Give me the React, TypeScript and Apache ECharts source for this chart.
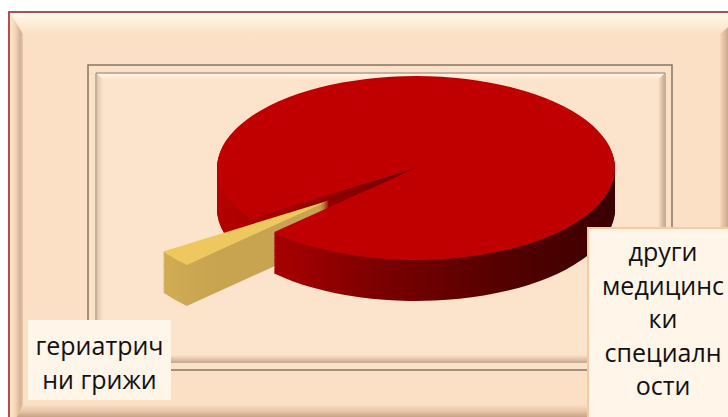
import React, { useEffect, useRef } from "react";
import * as echarts from "echarts";

// ---- data ----
const categories = ["гериатрични грижи", "други медицински специалности"];
const values = [3, 97];
const wrapWidths = [9, 8];

// ---- styling / geometry ----
const W = 728;
const H = 417;
const K = 92 / 199; // vertical squash of the pie disc
const R = 199;
const CX = 416;
const CY_TOP = 168;
const DEPTH = 41;
const LAYERS = 46;
const MID_DEG = 219; // direction of the exploded slice
const topColors = ["#eec85e", "#c00000"];
const wallColors = [
  {
    type: "linear", x: 150, y: 0, x2: 300, y2: 0, global: true,
    colorStops: [
      { offset: 0, color: "#f7d868" },
      { offset: 0.22, color: "#dcb75a" },
      { offset: 1, color: "#c8a450" },
    ],
  },
  {
    type: "linear", x: 217, y: 0, x2: 615, y2: 0, global: true,
    colorStops: [
      { offset: 0, color: "#b40000" },
      { offset: 0.2, color: "#a00000" },
      { offset: 0.4, color: "#7c0000" },
      { offset: 0.7, color: "#570000" },
      { offset: 1, color: "#3a0000" },
    ],
  },
];

function wrap(text: string, max: number): string[] {
  const lines: string[] = [];
  let cur = "";
  for (let word of text.split(" ")) {
    if (cur && (cur + " " + word).length <= max) {
      cur += " " + word;
      continue;
    }
    if (cur) lines.push(cur);
    cur = "";
    while (word.length > max) {
      lines.push(word.slice(0, max));
      word = word.slice(max);
    }
    cur = word;
  }
  if (cur) lines.push(cur);
  return lines;
}

const lg = (x: number, y: number, x2: number, y2: number, stops: [number, string][]) => ({
  type: "linear", x, y, x2, y2, global: true,
  colorStops: stops.map(([offset, color]) => ({ offset, color })),
});

export default function App() {
  const bgRef = useRef<HTMLDivElement>(null);
  const pieRef = useRef<HTMLDivElement>(null);
  const labRef = useRef<HTMLDivElement>(null);

  useEffect(() => {
    const bg = echarts.init(bgRef.current!, null, { renderer: "svg" });
    const pie = echarts.init(pieRef.current!, null, { renderer: "svg" });
    const lab = echarts.init(labRef.current!, null, { renderer: "svg" });

    bg.setOption({
      animation: false,
      graphic: [
        { type: "rect", shape: { x: 0, y: 0, width: W, height: H }, style: { fill: "#ffffff" } },
        { type: "rect", shape: { x: 9, y: 12, width: 760, height: 440 }, style: { fill: "#fbe0c5", stroke: "#b4504c", lineWidth: 2 } },
        {
          type: "polygon", shape: { points: [[10, 13], [745, 13], [720, 34], [23, 34]] },
          style: { fill: lg(0, 13, 0, 34, [[0, "#fffaf0"], [0.35, "#fff0dc"], [1, "#fbe0c5"]]) },
        },
        {
          type: "polygon", shape: { points: [[10, 13], [23, 34], [23, 405], [10, 430]] },
          style: { fill: lg(10, 0, 23, 0, [[0, "#fde6d0"], [0.45, "#f3d2b4"], [0.8, "#d2b194"], [1, "#e9c9ab"]]) },
        },
        {
          type: "polygon", shape: { points: [[745, 13], [720, 34], [720, 405], [745, 430]] },
          style: { fill: lg(720, 0, 730, 0, [[0, "#f6d8bc"], [1, "#c29c7c"]]) },
        },
        {
          type: "polygon", shape: { points: [[23, 405], [720, 405], [745, 430], [10, 430]] },
          style: { fill: lg(0, 405, 0, 417, [[0, "#f7dcc2"], [0.5, "#e9c7a8"], [1, "#c9a385"]]) },
        },
        { type: "rect", shape: { x: 88, y: 65, width: 584, height: 305 }, style: { fill: "#fbe1c7", stroke: "#857565", lineWidth: 1.5 } },
        { type: "rect", shape: { x: 96, y: 73, width: 569, height: 289 }, style: { fill: "#fbe3cc", stroke: "#8f7f70", lineWidth: 1 } },
        {
          type: "polygon", shape: { points: [[97, 74], [664, 74], [658, 80], [103, 80]] },
          style: { fill: lg(0, 74, 0, 80, [[0, "#fff3e4"], [1, "#fbe3cc"]]) },
        },
        {
          type: "polygon", shape: { points: [[97, 74], [103, 80], [103, 355], [97, 361]] },
          style: { fill: lg(97, 0, 103, 0, [[0, "#e2c4a8"], [1, "#fbe3cc"]]) },
        },
        {
          type: "polygon", shape: { points: [[664, 74], [658, 80], [658, 355], [664, 361]] },
          style: { fill: lg(658, 0, 664, 0, [[0, "#fbe3cc"], [1, "#cfae92"]]) },
        },
        {
          type: "polygon", shape: { points: [[103, 355], [658, 355], [664, 361], [97, 361]] },
          style: { fill: lg(0, 355, 0, 361, [[0, "#fbe3cc"], [1, "#d6b698"]]) },
        },
      ],
    });

    const total = values.reduce((a, b) => a + b, 0);
    const startAngle = MID_DEG + (values[0] / total) * 180;
    const series: any[] = [];
    for (let i = 0; i < LAYERS; i++) {
      const isTop = i === LAYERS - 1;
      const yPost = CY_TOP + DEPTH * (1 - i / (LAYERS - 1));
      series.push({
        type: "pie",
        radius: [0, R],
        center: [CX, yPost / K],
        startAngle,
        clockwise: true,
        selectedMode: "single",
        selectedOffset: 112,
        avoidLabelOverlap: false,
        silent: true,
        label: { show: false },
        labelLine: { show: false },
        emphasis: { disabled: true },
        data: categories.map((name, j) => ({
          name,
          value: values[j],
          selected: j === 0,
          itemStyle: { color: isTop ? topColors[j] : wallColors[j], borderWidth: 0 },
        })),
      });
    }
    pie.setOption({ animation: false, series });

    const boxes = [
      { x: 28, y: 320, w: 143, h: 80, tx: 99.5, ty: 362, stroke: "none" },
      { x: 588, y: 228, w: 150, h: 200, tx: 663, ty: 318, stroke: "#f8c9a0" },
    ];
    lab.setOption({
      animation: false,
      graphic: categories.flatMap((c, i) => [
        {
          type: "rect",
          shape: { x: boxes[i].x, y: boxes[i].y, width: boxes[i].w, height: boxes[i].h },
          style: { fill: "#fff5e9", stroke: boxes[i].stroke, lineWidth: 2 },
        },
        {
          type: "text",
          x: boxes[i].tx,
          y: boxes[i].ty,
          style: {
            text: wrap(c, wrapWidths[i]).join("\n"),
            fill: "#111111",
            fontSize: 25,
            fontFamily: "Open Sans",
            lineHeight: 33.5,
            align: "center",
            verticalAlign: "middle",
          },
        },
      ]),
    });

    return () => {
      bg.dispose();
      pie.dispose();
      lab.dispose();
    };
  }, []);

  return (
    <div style={{ position: "fixed", left: 0, top: 0, width: W, height: H, overflow: "hidden", background: "#fff" }}>
      <div ref={bgRef} style={{ position: "absolute", left: 0, top: 0, width: W, height: H }} />
      <div
        ref={pieRef}
        style={{
          position: "absolute", left: 0, top: 0, width: W, height: H / K,
          transform: `scaleY(${K})`, transformOrigin: "0 0",
        }}
      />
      <div ref={labRef} style={{ position: "absolute", left: 0, top: 0, width: W, height: H }} />
    </div>
  );
}
